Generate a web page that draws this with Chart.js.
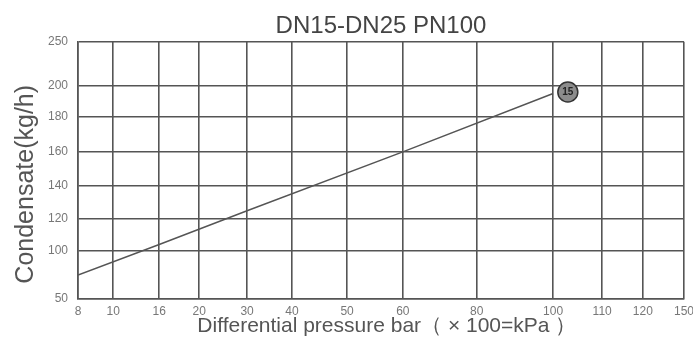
<!DOCTYPE html>
<html>
<head>
<meta charset="utf-8">
<script src="https://cdn.jsdelivr.net/npm/chart.js@4/dist/chart.umd.min.js"></script>
<style>
  html, body { margin: 0; padding: 0; background: #fff; }
  #wrap { width: 693px; height: 340px; }
</style>
</head>
<body>
<div id="wrap"><canvas id="myChart"></canvas></div>
<script>
// tick labels of the two axes (the chart paper is not evenly divided)
const pressureTicks = [8, 10, 16, 20, 30, 40, 50, 60, 80, 100, 110, 120, 150];
const condensateTicks = [50, 100, 120, 140, 160, 180, 200, 250];
// where each tick sits along its axis, 0 = start, 1 = end
const pressureTickPos = [0, 0.058, 0.134, 0.200, 0.279, 0.353, 0.444, 0.536, 0.658, 0.784, 0.865, 0.932, 1];
const condensateTickPos = [0, 0.187, 0.311, 0.440, 0.572, 0.708, 0.829, 1];

// curve
const pressure = [8, 16, 30, 60, 100];
const condensate = [75, 104, 125, 160, 195];

// circled mark at the end of the curve
const markPressure = [103];
const markCondensate = [196];
const markLabel = ['15'];

const axisStops = {
  x: { ticks: pressureTicks, pos: pressureTickPos },
  y: { ticks: condensateTicks, pos: condensateTickPos }
};

// linear scale but piecewise between the printed ticks
class PaperScale extends Chart.LinearScale {
  buildTicks() {
    this.start = this.min;
    this.end = this.max;
    return axisStops[this.id].ticks.map(v => ({ value: v }));
  }
  toDecimal(v) {
    const s = axisStops[this.id].ticks, p = axisStops[this.id].pos;
    if (v <= s[0]) return p[0];
    for (let i = 1; i < s.length; i++) {
      if (v <= s[i]) return p[i - 1] + (v - s[i - 1]) / (s[i] - s[i - 1]) * (p[i] - p[i - 1]);
    }
    return p[p.length - 1];
  }
  getPixelForValue(v) {
    if (v === null || v === undefined) return NaN;
    return this.getPixelForDecimal(this.toDecimal(v));
  }
  getValueForPixel(px) {
    const d = this.getDecimalForPixel(px);
    const s = axisStops[this.id].ticks, p = axisStops[this.id].pos;
    for (let i = 1; i < p.length; i++) {
      if (d <= p[i]) return s[i - 1] + (d - p[i - 1]) / (p[i] - p[i - 1]) * (s[i] - s[i - 1]);
    }
    return s[s.length - 1];
  }
}
PaperScale.id = 'paper';
PaperScale.defaults = Chart.LinearScale.defaults;
Chart.register(PaperScale);

// writes the text inside the circled mark
const markText = {
  id: 'markText',
  afterDatasetsDraw(chart) {
    const meta = chart.getDatasetMeta(1);
    const ctx = chart.ctx;
    ctx.save();
    ctx.font = 'bold 10px "Liberation Sans", Arial, sans-serif';
    ctx.fillStyle = '#222';
    ctx.textAlign = 'center';
    ctx.textBaseline = 'middle';
    meta.data.forEach((pt, i) => ctx.fillText(markLabel[i], pt.x, pt.y + 0.5));
    ctx.restore();
  }
};

const gridColor = '#555';
const font = '"Liberation Sans", Arial, sans-serif';

const myChart = new Chart(document.getElementById('myChart'), {
  type: 'line',
  data: {
    datasets: [{
      data: pressure.map((p, i) => ({ x: p, y: condensate[i] })),
      borderColor: '#555',
      borderWidth: 1.5,
      pointRadius: 0,
      tension: 0
    }, {
      data: markPressure.map((p, i) => ({ x: p, y: markCondensate[i] })),
      showLine: false,
      pointRadius: 10,
      pointBackgroundColor: '#8c8c8c',
      pointBorderColor: '#333',
      pointBorderWidth: 1.5
    }]
  },
  options: {
    responsive: true,
    maintainAspectRatio: false,
    animation: false,
    layout: { autoPadding: false, padding: { left: 0, right: 0, top: 0, bottom: 0 } },
    plugins: {
      legend: { display: false },
      tooltip: { enabled: false },
      title: {
        display: true,
        text: 'DN15-DN25 PN100',
        fullSize: false,
        color: '#444',
        font: { family: font, size: 24, weight: 'normal' },
        padding: { top: 12, bottom: 1 }
      }
    },
    scales: {
      x: {
        type: 'paper',
        min: 8,
        max: 150,
        grid: { color: gridColor, lineWidth: 1.6, drawTicks: false },
        border: { color: gridColor, width: 1.6 },
        ticks: { autoSkip: false, maxRotation: 0, padding: 5, color: '#777', font: { family: font, size: 12 } },
        title: {
          display: true,
          text: '  Differential pressure bar（ × 100=kPa ）',
          color: '#555',
          font: { family: font, size: 21 },
          padding: { top: 0, bottom: 1 }
        },
        afterFit(scale) { scale.height = 41; scale.paddingRight = 9; }
      },
      y: {
        type: 'paper',
        min: 50,
        max: 250,
        grid: { color: gridColor, lineWidth: 1.4, drawTicks: false },
        border: { color: gridColor, width: 1.6 },
        ticks: { autoSkip: false, padding: 10, color: '#777', font: { family: font, size: 12 } },
        title: {
          display: true,
          text: 'Condensate(kg/h)    ',
          color: '#555',
          font: { family: font, size: 25 },
          padding: { top: 11, bottom: 0 }
        },
        afterFit(scale) { scale.width = 78; }
      }
    }
  },
  plugins: [markText]
});
</script>
</body>
</html>
